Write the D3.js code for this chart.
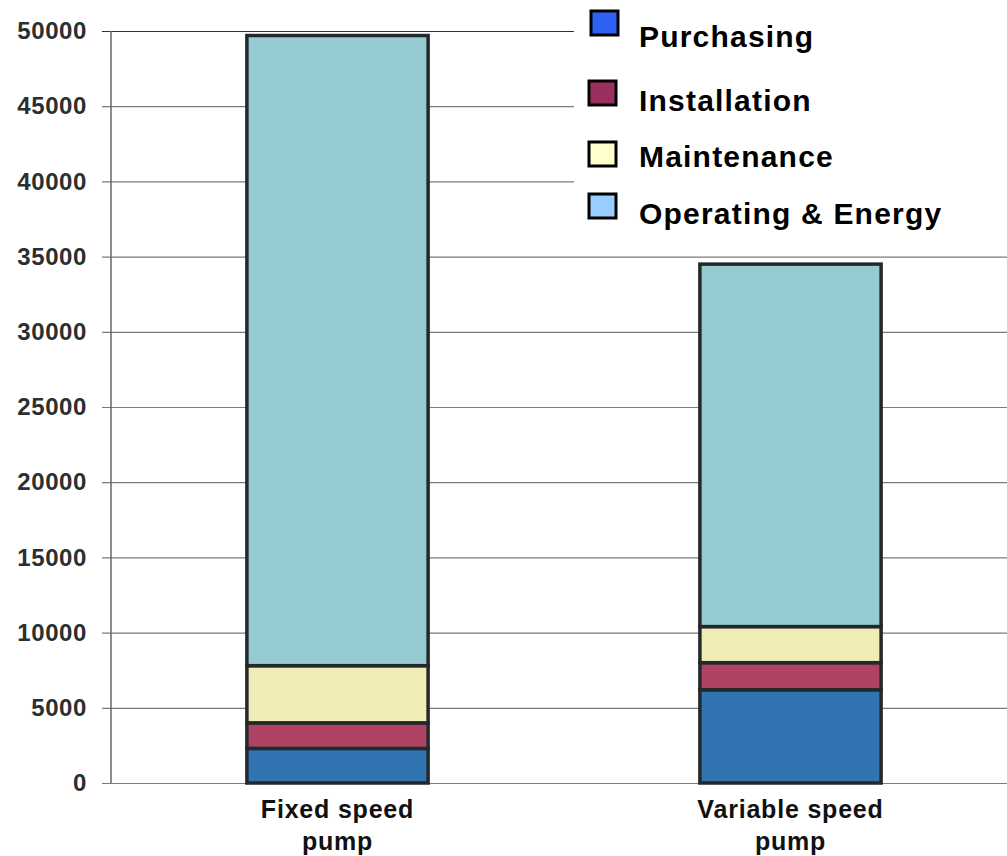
<!DOCTYPE html>
<html>
<head>
<meta charset="utf-8">
<script src="https://cdn.jsdelivr.net/npm/d3@7"></script>
<style>
  body { margin: 0; background: #fff; }
  svg { display: block; font-family: "Liberation Sans", Arial, Helvetica, sans-serif; }
</style>
</head>
<body>
<div id="graph"></div>
<script>
// chart data
var pumps = ["Fixed speed pump", "Variable speed pump"];
var pumpLines = [["Fixed speed", "pump"], ["Variable speed", "pump"]];
var costTypes = ["Purchasing", "Installation", "Maintenance", "Operating & Energy"];
var purchasing = [2300, 6200];
var installation = [1700, 1800];
var maintenance = [3800, 2400];
var operating = [41900, 24100];
var yTicks = [0, 5000, 10000, 15000, 20000, 25000, 30000, 35000, 40000, 45000, 50000];

var barColors = ["#3174b2", "#b04264", "#efedb5", "#95cbd0"];
var legendColors = ["#2e62f5", "#9b3060", "#ffffcc", "#99ccff"];

var W = 1007, H = 856;

var rows = pumps.map(function(p, i) {
  return {
    pump: p,
    "Purchasing": purchasing[i],
    "Installation": installation[i],
    "Maintenance": maintenance[i],
    "Operating & Energy": operating[i]
  };
});

var svg = d3.select("#graph").append("svg")
  .attr("width", W)
  .attr("height", H);

var x = d3.scaleBand()
  .domain(pumps)
  .range([111, 1017])
  .paddingInner(0.6)
  .paddingOuter(0.3);

var y = d3.scaleLinear()
  .domain([0, 50000])
  .range([783, 31]);

// gridlines + y labels
var yAxis = d3.axisLeft(y)
  .tickValues(yTicks)
  .tickSize(-(W - 102))
  .tickPadding(16)
  .tickFormat(d3.format("d"));

var gy = svg.append("g")
  .attr("transform", "translate(102,0)")
  .call(yAxis);
gy.select(".domain").remove();
gy.selectAll(".tick line")
  .attr("stroke", function(d) { return d == 50000 ? "#333" : "#7a7a7a"; })
  .attr("stroke-width", 1.2);
gy.selectAll(".tick text")
  .attr("font-size", 24)
  .attr("font-weight", "bold")
  .attr("letter-spacing", 0.6)
  .attr("fill", "#2b2f31")
  .attr("x", -15);

// y axis line
svg.append("line")
  .attr("x1", 111).attr("x2", 111)
  .attr("y1", y(50000)).attr("y2", y(0))
  .attr("stroke", "#666")
  .attr("stroke-width", 1.5);

// legend background hides gridlines
svg.append("rect")
  .attr("x", 574).attr("y", 0)
  .attr("width", W - 574).attr("height", 240)
  .attr("fill", "#fff");

// stacked bars
var stacked = d3.stack().keys(costTypes)(rows);

var layers = svg.selectAll("g.layer")
  .data(stacked)
  .enter().append("g")
  .attr("class", "layer")
  .attr("fill", function(d, i) { return barColors[i]; });

layers.selectAll("rect")
  .data(function(d) { return d; })
  .enter().append("rect")
  .attr("x", function(d) { return x(d.data.pump); })
  .attr("width", x.bandwidth())
  .attr("y", function(d) { return y(d[1]); })
  .attr("height", function(d) { return y(d[0]) - y(d[1]); })
  .attr("stroke", "#23292b")
  .attr("stroke-width", 3.5);

// x labels
pumps.forEach(function(p, i) {
  var t = svg.append("text")
    .attr("x", x(p) + x.bandwidth() / 2)
    .attr("y", 818)
    .attr("text-anchor", "middle")
    .attr("font-size", 25)
    .attr("font-weight", "bold")
    .attr("letter-spacing", 0.8)
    .attr("fill", "#111");
  pumpLines[i].forEach(function(line, j) {
    t.append("tspan")
      .attr("x", x(p) + x.bandwidth() / 2)
      .attr("dy", j == 0 ? 0 : 32)
      .text(line);
  });
});

// legend
var legendY = [11, 81, 142, 194];
var legendTextY = [47, 111, 167, 224];
var leg = svg.selectAll("g.legend")
  .data(costTypes)
  .enter().append("g")
  .attr("class", "legend");

leg.append("rect")
  .attr("x", function(d, i) { return i == 0 ? 591 : 589; })
  .attr("y", function(d, i) { return legendY[i]; })
  .attr("width", 27)
  .attr("height", 24)
  .attr("fill", function(d, i) { return legendColors[i]; })
  .attr("stroke", "#000")
  .attr("stroke-width", 3);

leg.append("text")
  .attr("x", 639)
  .attr("y", function(d, i) { return legendTextY[i]; })
  .attr("font-size", 30)
  .attr("font-weight", "bold")
  .attr("letter-spacing", 1.2)
  .attr("fill", "#000")
  .text(function(d) { return d; });
</script>
</body>
</html>
